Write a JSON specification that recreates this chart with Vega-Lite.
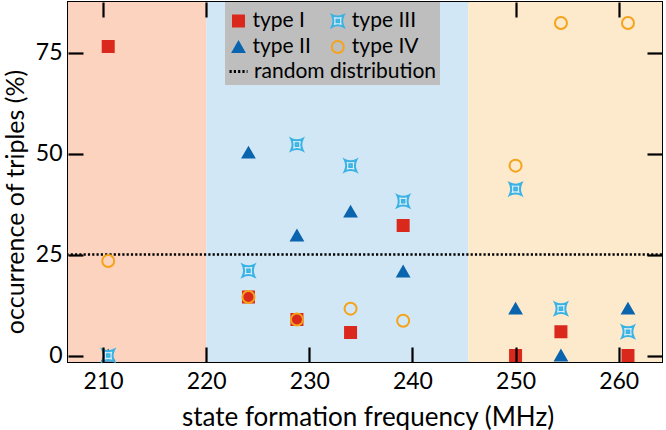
{
  "$schema": "https://vega.github.io/schema/vega-lite/v6.json",
  "width": 594,
  "height": 360,
  "autosize": {"type": "none"},
  "padding": {"left": 68, "top": 2, "right": 4, "bottom": 68},
  "background": "white",
  "config": {
    "view": {"stroke": "black", "strokeWidth": 2},
    "font": "Lato",
    "axis": {
      "grid": false,
      "domain": false,
      "ticks": true,
      "tickSize": -15,
      "tickWidth": 2.2,
      "tickColor": "#000000",
      "tickOpacity": 1,
      "labelColor": "black",
      "labelFontSize": 23,
      "labelFont": "Lato",
      "titleColor": "black",
      "titleFont": "Lato",
      "titleFontWeight": "normal"
    }
  },
  "datasets": {
    "regions": [
      {"start": 200, "end": 220, "region": "low"},
      {"start": 220, "end": 245.4, "region": "mid"},
      {"start": 245.4, "end": 270, "region": "high"}
    ],
    "ref": [{"y": 25, "label": "random distribution"}],
    "points": [
      {"freq": 210.5, "type": "type I", "pct": 76.5},
      {"freq": 224.1, "type": "type I", "pct": 14.5},
      {"freq": 228.8, "type": "type I", "pct": 8.9},
      {"freq": 234.0, "type": "type I", "pct": 5.7},
      {"freq": 239.1, "type": "type I", "pct": 32.2},
      {"freq": 250.0, "type": "type I", "pct": 0},
      {"freq": 254.4, "type": "type I", "pct": 5.9},
      {"freq": 260.9, "type": "type I", "pct": 0},
      {"freq": 210.5, "type": "type II", "pct": 0},
      {"freq": 224.1, "type": "type II", "pct": 50.2},
      {"freq": 228.8, "type": "type II", "pct": 29.7},
      {"freq": 234.0, "type": "type II", "pct": 35.6},
      {"freq": 239.1, "type": "type II", "pct": 20.8},
      {"freq": 250.0, "type": "type II", "pct": 11.6},
      {"freq": 254.4, "type": "type II", "pct": 0},
      {"freq": 260.9, "type": "type II", "pct": 11.6},
      {"freq": 210.5, "type": "type III", "pct": 0},
      {"freq": 224.1, "type": "type III", "pct": 21.0},
      {"freq": 228.8, "type": "type III", "pct": 52.2},
      {"freq": 234.0, "type": "type III", "pct": 47.0},
      {"freq": 239.1, "type": "type III", "pct": 38.2},
      {"freq": 250.0, "type": "type III", "pct": 41.2},
      {"freq": 254.4, "type": "type III", "pct": 11.6},
      {"freq": 260.9, "type": "type III", "pct": 5.9},
      {"freq": 210.5, "type": "type IV", "pct": 23.4},
      {"freq": 224.1, "type": "type IV", "pct": 14.5},
      {"freq": 228.8, "type": "type IV", "pct": 8.9},
      {"freq": 234.0, "type": "type IV", "pct": 11.6},
      {"freq": 239.1, "type": "type IV", "pct": 8.6},
      {"freq": 250.0, "type": "type IV", "pct": 47.0},
      {"freq": 254.4, "type": "type IV", "pct": 82.3},
      {"freq": 260.9, "type": "type IV", "pct": 82.3}
    ]
  },
  "resolve": {"axis": {"x": "independent", "y": "independent"}},
  "layer": [
    {
      "data": {"name": "regions"},
      "mark": {"type": "rect", "clip": true},
      "encoding": {
        "x": {
          "field": "start", "type": "quantitative",
          "scale": {"domain": [206.6, 264.2], "nice": false, "zero": false},
          "axis": {
            "orient": "bottom",
            "zindex": 2,
            "ticks": true,
            "tickSize": -15,
            "values": [210, 220, 230, 240, 250, 260],
            "labelPadding": 23,
            "title": "state formation frequency (MHz)",
            "titleFontSize": 26,
            "titleX": 299.5,
            "titleY": 63,
            "titleBaseline": "alphabetic",
            "titleAnchor": null
          }
        },
        "x2": {"field": "end"},
        "color": {
          "field": "region", "type": "nominal",
          "scale": {"domain": ["low", "mid", "high"], "range": ["#FCD3BE", "#D1E7F5", "#FDE9CC"]},
          "legend": null
        }
      }
    },
    {
      "data": {"name": "ref"},
      "mark": {"type": "rule", "strokeWidth": 2.5, "color": "black"},
      "encoding": {
        "y": {
          "field": "y", "type": "quantitative",
          "scale": {"domain": [-1.6, 87.5], "nice": false, "zero": false},
          "axis": {
            "orient": "left",
            "zindex": 2,
            "ticks": true,
            "tickSize": -15,
            "values": [0, 25, 50, 75],
            "labelPadding": 21,
            "title": "occurrence of triples (%)",
            "titleFontSize": 25,
            "titleX": -53,
            "titleY": 199.5,
            "titleAlign": "center",
            "titleBaseline": "middle",
            "titleAngle": -90
          }
        },
        "strokeDash": {
          "field": "label", "type": "nominal",
          "scale": {"domain": ["random distribution"], "range": [[2.2, 2.1]]},
          "legend": {
            "orient": "none",
            "legendX": 157,
            "legendY": 0,
            "zindex": 3,
            "title": "\u00a0",
            "titleFontSize": 49,
            "titlePadding": 7,
            "fillColor": "#BEBEBE",
            "padding": 3,
            "labelFontSize": 21,
            "labelFont": "Lato",
            "labelColor": "black",
            "labelLimit": 0,
            "labelOffset": 5,
            "symbolType": "stroke",
            "symbolSize": 324,
            "symbolStrokeWidth": 3,
            "symbolStrokeColor": "black",
            "encode": {
              "symbols": {"update": {"strokeDash": {"value": [3, 4.3]}, "strokeWidth": {"value": 3}, "stroke": {"value": "black"}}}
            }
          }
        }
      }
    },
    {
      "data": {"name": "points"},
      "mark": {"type": "point", "opacity": 1, "strokeWidth": 2},
      "encoding": {
        "x": {
          "field": "freq", "type": "quantitative",
          "scale": {"domain": [206.6, 264.2], "nice": false, "zero": false},
          "axis": {"orient": "top", "zindex": 2, "ticks": true, "tickSize": -15, "values": [210, 220, 230, 240, 250, 260], "labels": false, "title": null}
        },
        "y": {
          "field": "pct", "type": "quantitative",
          "scale": {"domain": [-1.6, 87.5], "nice": false, "zero": false},
          "axis": {"orient": "right", "zindex": 2, "ticks": true, "tickSize": -15, "values": [0, 25, 50, 75], "labels": false, "title": null}
        },
        "shape": {
          "field": "type", "type": "nominal",
          "scale": {
            "domain": ["type I", "type II", "type III", "type IV"],
            "range": ["square", "triangle-up", "M-1,-1Q0,-0.5,1,-1Q0.5,0,1,1Q0,0.5,-1,1Q-0.5,0,-1,-1ZM-0.22,-0.22L0.22,-0.22L0.22,0.22L-0.22,0.22Z", "circle"]
          },
          "legend": {
            "orient": "none",
            "legendX": 160,
            "legendY": 8.2,
            "zindex": 4,
            "columns": 2,
            "title": null,
            "padding": 0,
            "labelFontSize": 21,
            "labelFont": "Lato",
            "labelColor": "black",
            "labelOffset": 3.5,
            "rowPadding": 4.3,
            "columnPadding": 16.3,
            "symbolStrokeWidth": 2
          }
        },
        "fill": {
          "field": "type", "type": "nominal",
          "scale": {
            "domain": ["type I", "type II", "type III", "type IV"],
            "range": ["#DA291C", "#0A64AE", "#D6EDF8", "transparent"]
          }
        },
        "stroke": {
          "field": "type", "type": "nominal",
          "scale": {
            "domain": ["type I", "type II", "type III", "type IV"],
            "range": ["#DA291C", "#0A64AE", "#3AB2E3", "#F5A31A"]
          }
        },
        "size": {
          "field": "type", "type": "nominal",
          "scale": {
            "domain": ["type I", "type II", "type III", "type IV"],
            "range": [121, 144, 52, 74]
          }
        }
      }
    }
  ]
}
